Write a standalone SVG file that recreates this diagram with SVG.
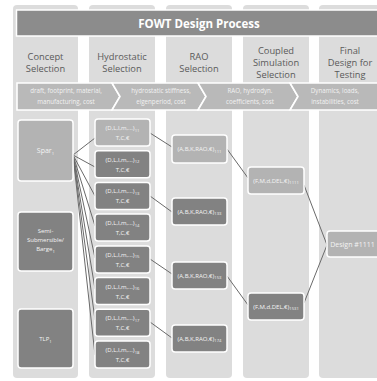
<svg xmlns="http://www.w3.org/2000/svg" width="377" height="381" viewBox="0 0 377 381">
<style>
.col{fill:#dcdcdc}
.hdr{font-family:"Open Sans","Liberation Sans",sans-serif;font-size:9.3px;fill:#5a5a5a;text-anchor:middle}
.chev{fill:#b9b9b9;stroke:#ffffff;stroke-width:1.6;stroke-linejoin:miter}
.ct{font-family:"Open Sans","Liberation Sans",sans-serif;font-size:6.2px;fill:#f2f2f2;text-anchor:middle}
.lt{fill:#b3b3b3;stroke:#ffffff;stroke-width:1.5}
.dk{fill:#828282;stroke:#ffffff;stroke-width:1.5}
.nt{font-family:"Open Sans","Liberation Sans",sans-serif;font-size:6px;fill:#f4f4f4;text-anchor:middle}
.sub{font-size:4.2px}
.con line{stroke:#6a6a6a;stroke-width:1}
</style>
<rect width="377" height="381" fill="#ffffff"/>
<g id="columns">
<rect class="col" x="13" y="5" width="65" height="373" rx="4"/>
<rect class="col" x="89" y="5" width="66" height="373" rx="4"/>
<rect class="col" x="166" y="5" width="66" height="373" rx="4"/>
<rect class="col" x="243" y="5" width="66" height="373" rx="4"/>
<rect class="col" x="319" y="5" width="66" height="373" rx="4"/>
</g>
<g id="banner">
<rect x="16.5" y="10" width="370" height="26" fill="#8c8c8c" stroke="#ffffff" stroke-width="1.5"/>
<text x="199" y="27.5" font-family="Open Sans, Liberation Sans, sans-serif" font-size="11.5" font-weight="bold" fill="#ffffff" text-anchor="middle">FOWT Design Process</text>
</g>
<g id="headers">
<text class="hdr" x="45.5" y="60">Concept</text>
<text class="hdr" x="45.5" y="72">Selection</text>
<text class="hdr" x="122" y="60">Hydrostatic</text>
<text class="hdr" x="122" y="72">Selection</text>
<text class="hdr" x="199" y="60">RAO</text>
<text class="hdr" x="199" y="72">Selection</text>
<text class="hdr" x="276" y="54">Coupled</text>
<text class="hdr" x="276" y="66">Simulation</text>
<text class="hdr" x="276" y="78">Selection</text>
<text class="hdr" x="350" y="54">Final</text>
<text class="hdr" x="350" y="66">Design for</text>
<text class="hdr" x="350" y="78">Testing</text>
</g>
<g id="chevrons">
<polygon class="chev" points="17,83 112,83 120,96.5 112,110 17,110"/>
<polygon class="chev" points="112,83 198,83 206,96.5 198,110 112,110 120,96.5"/>
<polygon class="chev" points="198,83 290,83 298,96.5 290,110 198,110 206,96.5"/>
<polygon class="chev" points="290,83 385,83 385,110 290,110 298,96.5"/>
<text class="ct" x="66" y="93">draft, footprint, material,</text>
<text class="ct" x="66" y="104">manufacturing, cost</text>
<text class="ct" x="161" y="93">hydrostatic stiffness,</text>
<text class="ct" x="161" y="104">eigenperiod, cost</text>
<text class="ct" x="250" y="93">RAO, hydrodyn.</text>
<text class="ct" x="250" y="104">coefficients, cost</text>
<text class="ct" x="335" y="93">Dynamics, loads,</text>
<text class="ct" x="335" y="104">instabilities, cost</text>
</g>
<g id="connectors" class="con">
<line x1="73" y1="155" x2="95" y2="138"/>
<line x1="73" y1="155" x2="95" y2="167"/>
<line x1="73" y1="155" x2="95" y2="196"/>
<line x1="73" y1="155" x2="95" y2="226"/>
<line x1="73" y1="155" x2="95" y2="258"/>
<line x1="73" y1="155" x2="95" y2="289"/>
<line x1="73" y1="155" x2="95" y2="320"/>
<line x1="73" y1="155" x2="95" y2="355"/>
<line x1="150" y1="133" x2="172" y2="147"/>
<line x1="150" y1="196" x2="172" y2="212"/>
<line x1="150" y1="259" x2="172" y2="274"/>
<line x1="150" y1="322" x2="172" y2="338"/>
<line x1="227" y1="149" x2="248" y2="178"/>
<line x1="227" y1="276" x2="248" y2="305"/>
<line x1="304" y1="185" x2="327" y2="245"/>
<line x1="304" y1="303" x2="327" y2="245"/>
</g>
<g id="spar1">
<rect class="lt" x="18" y="120" width="55" height="61" rx="3"/>
<text class="nt" font-size="7" x="45.5" y="153" style="font-size:7px">Spar<tspan class="sub" dy="1.8">1</tspan></text>
</g>
<g id="semi1">
<rect class="dk" x="18" y="212" width="55" height="59" rx="3"/>
<text class="nt" x="45.5" y="233">Semi-</text>
<text class="nt" x="45.5" y="242">Submersible/</text>
<text class="nt" x="45.5" y="251">Barge<tspan class="sub" dy="1.5">1</tspan></text>
</g>
<g id="tlp1">
<rect class="dk" x="18" y="309" width="55" height="59" rx="3"/>
<text class="nt" x="45.5" y="341">TLP<tspan class="sub" dy="1.5">1</tspan></text>
</g>
<g id="h11"><rect class="lt" x="95" y="119" width="55" height="27" rx="3"/><text class="nt" x="122.5" y="130">(D,L,l,m,...)<tspan class="sub" dy="1.5">11</tspan></text><text class="nt" x="122.5" y="140">T,C,€</text></g>
<g id="h12"><rect class="dk" x="95" y="150.7" width="55" height="27" rx="3"/><text class="nt" x="122.5" y="161.7">(D,L,l,m,...)<tspan class="sub" dy="1.5">12</tspan></text><text class="nt" x="122.5" y="171.7">T,C,€</text></g>
<g id="h13"><rect class="dk" x="95" y="182.4" width="55" height="27" rx="3"/><text class="nt" x="122.5" y="193.4">(D,L,l,m,...)<tspan class="sub" dy="1.5">13</tspan></text><text class="nt" x="122.5" y="203.4">T,C,€</text></g>
<g id="h14"><rect class="dk" x="95" y="214" width="55" height="27" rx="3"/><text class="nt" x="122.5" y="225">(D,L,l,m,...)<tspan class="sub" dy="1.5">14</tspan></text><text class="nt" x="122.5" y="235">T,C,€</text></g>
<g id="h15"><rect class="dk" x="95" y="245.9" width="55" height="27" rx="3"/><text class="nt" x="122.5" y="256.9">(D,L,l,m,...)<tspan class="sub" dy="1.5">15</tspan></text><text class="nt" x="122.5" y="266.9">T,C,€</text></g>
<g id="h16"><rect class="dk" x="95" y="277.6" width="55" height="27" rx="3"/><text class="nt" x="122.5" y="288.6">(D,L,l,m,...)<tspan class="sub" dy="1.5">16</tspan></text><text class="nt" x="122.5" y="298.6">T,C,€</text></g>
<g id="h17"><rect class="dk" x="95" y="309.3" width="55" height="27" rx="3"/><text class="nt" x="122.5" y="320.3">(D,L,l,m,...)<tspan class="sub" dy="1.5">17</tspan></text><text class="nt" x="122.5" y="330.3">T,C,€</text></g>
<g id="h18"><rect class="dk" x="95" y="341" width="55" height="27" rx="3"/><text class="nt" x="122.5" y="352">(D,L,l,m,...)<tspan class="sub" dy="1.5">18</tspan></text><text class="nt" x="122.5" y="362">T,C,€</text></g>
<g id="r111"><rect class="lt" x="172" y="135" width="55" height="28" rx="3"/><text class="nt" x="199.5" y="151">(A,B,K,RAO,€)<tspan class="sub" dy="1.5">111</tspan></text></g>
<g id="r133"><rect class="dk" x="172" y="198" width="55" height="27" rx="3"/><text class="nt" x="199.5" y="213.5">(A,B,K,RAO,€)<tspan class="sub" dy="1.5">133</tspan></text></g>
<g id="r153"><rect class="dk" x="172" y="262" width="55" height="27" rx="3"/><text class="nt" x="199.5" y="277.5">(A,B,K,RAO,€)<tspan class="sub" dy="1.5">153</tspan></text></g>
<g id="r174"><rect class="dk" x="172" y="325" width="55" height="27" rx="3"/><text class="nt" x="199.5" y="340.5">(A,B,K,RAO,€)<tspan class="sub" dy="1.5">174</tspan></text></g>
<g id="c1111"><rect class="lt" x="248" y="167" width="56" height="27" rx="3"/><text class="nt" x="276" y="182.5">(F,M,d,DEL,€)<tspan class="sub" dy="1.5">1111</tspan></text></g>
<g id="c1531"><rect class="dk" x="248" y="293" width="56" height="27" rx="3"/><text class="nt" x="276" y="308.5">(F,M,d,DEL,€)<tspan class="sub" dy="1.5">1531</tspan></text></g>
<g id="design1111"><rect class="lt" x="327" y="231" width="60" height="26" rx="3"/><text class="nt" x="352.5" y="246.5" style="font-size:7px">Design #1111</text></g>
</svg>
